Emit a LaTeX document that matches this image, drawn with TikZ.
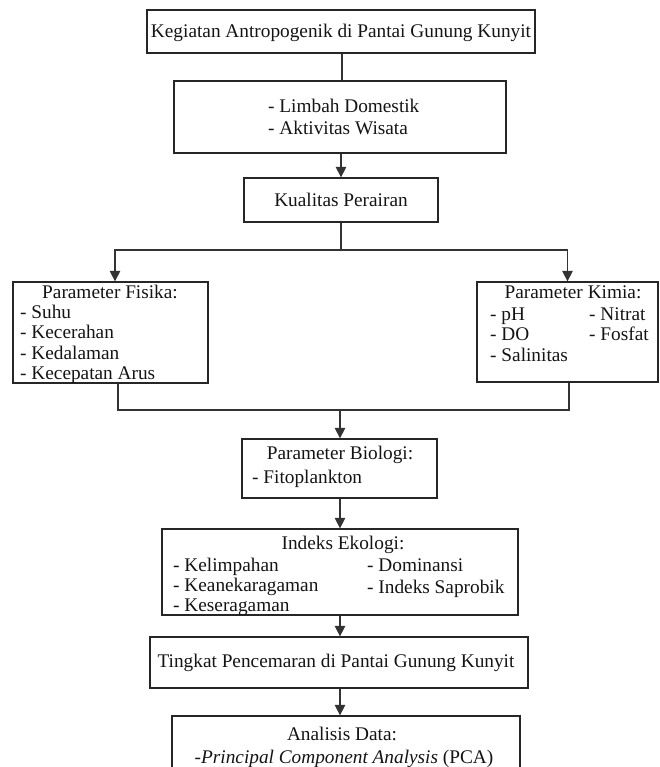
\documentclass[tikz,border=0pt]{standalone}
\usepackage{fontspec}
\setmainfont{Liberation Serif}
\usetikzlibrary{arrows.meta,calc}
\begin{document}
\begin{tikzpicture}[x=1pt,y=-1pt,
  box/.style={draw=black!85,line width=1.3pt,rectangle,inner sep=0pt,fill=none},
  txt/.style={inner sep=0pt,anchor=base,font=\fontsize{19.3}{21}\selectfont,text=black!92},
  txtl/.style={txt,anchor=base west},
  conn/.style={draw=black!80,line width=1.3pt},
  arr/.style={conn,-{Triangle[width=10.5pt,length=10.5pt]}}]
\useasboundingbox (0,0) rectangle (659,767);
\clip (0,0) rectangle (659,767);
% boxes
\node[box,minimum width=388pt,minimum height=43pt] (b1) at (341,31.5) {};
\node[box,minimum width=332pt,minimum height=72pt] (b2) at (340,117) {};
\node[box,minimum width=194pt,minimum height=44pt] (b3) at (341,200) {};
\node[box,minimum width=195pt,minimum height=101pt] (b4) at (110.5,332.5) {};
\node[box,minimum width=181pt,minimum height=100pt] (b5) at (567.5,332) {};
\node[box,minimum width=195pt,minimum height=59pt] (b6) at (339.5,468.5) {};
\node[box,minimum width=356pt,minimum height=86pt] (b7) at (340,572) {};
\node[box,minimum width=378pt,minimum height=51pt] (b8) at (339,662.5) {};
\node[box,minimum width=348pt,minimum height=64pt] (b9) at (346,748) {};
% texts
\node[txt] (t1) at (341,38) {Kegiatan Antropogenik di Pantai Gunung Kunyit};
\node[txtl] (t2a) at (268,113) {- Limbah Domestik};
\node[txtl] (t2b) at (268,135) {- Aktivitas Wisata};
\node[txt] (t3) at (341,207) {Kualitas Perairan};
\node[txt] (t4) at (110,298) {Parameter Fisika:};
\node[txtl] (t4a) at (20,318) {- Suhu};
\node[txtl] (t4b) at (20,338.5) {- Kecerahan};
\node[txtl] (t4c) at (20,359) {- Kedalaman};
\node[txtl] (t4d) at (20,379.5) {- Kecepatan Arus};
\node[txt] (t5) at (573,298) {Parameter Kimia:};
\node[txtl] (t5a) at (490,320) {- pH};
\node[txtl] (t5b) at (490,340.5) {- DO};
\node[txtl] (t5c) at (490,361) {- Salinitas};
\node[txtl] (t5d) at (589,320) {- Nitrat};
\node[txtl] (t5e) at (589,340.5) {- Fosfat};
\node[txt] (t6) at (340,459) {Parameter Biologi:};
\node[txtl] (t6a) at (252,483) {- Fitoplankton};
\node[txt] (t7) at (343,549) {Indeks Ekologi:};
\node[txtl] (t7a) at (173,571) {- Kelimpahan};
\node[txtl] (t7b) at (173,591) {- Keanekaragaman};
\node[txtl] (t7c) at (173,611) {- Keseragaman};
\node[txtl] (t7d) at (367,571) {- Dominansi};
\node[txtl] (t7e) at (367,593) {- Indeks Saprobik};
\node[txt] (t8) at (336,667) {Tingkat Pencemaran di Pantai Gunung Kunyit};
\node[txt] (t9) at (342,740) {Analisis Data:};
\node[txt] (t9a) at (344,763) {-\textit{Principal Component Analysis} (PCA)};
% junctions
\coordinate (j1) at (341,250);
\coordinate (j2) at (340,410);
% connectors
\draw[conn] ([xshift=1pt]b1.south) -- ([xshift=1pt]b1.south |- b2.north);
\draw[arr] ([xshift=1pt]b2.south) -- ([xshift=1pt]b2.south |- b3.north);
\draw[conn] (b3.south) -- (j1);
\draw[arr] (j1) -| ([xshift=4.5pt]b4.north);
\draw[arr] (j1) -| (b5.north);
\draw[conn] ([xshift=7.5pt]b4.south) |- (j2) -| ([xshift=1.5pt]b5.south);
\draw[arr] (j2) -- (j2 |- b6.north);
\draw[arr] (b6.south -| j2) -- (j2 |- b7.north);
\draw[arr] (b7.south -| j2) -- (j2 |- b8.north);
\draw[arr] (b8.south -| j2) -- (j2 |- b9.north);
\end{tikzpicture}
\end{document}
